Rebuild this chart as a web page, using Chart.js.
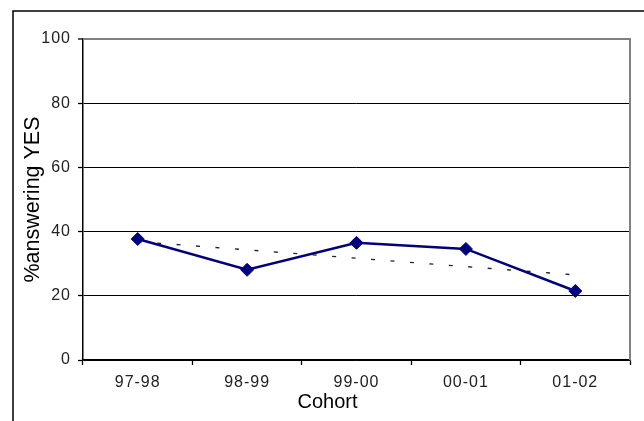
<!DOCTYPE html>
<html>
<head>
<meta charset="utf-8">
<script src="https://cdn.jsdelivr.net/npm/chart.js@4"></script>
<style>
  html, body { margin: 0; padding: 0; background: #fff; }
  #wrap { width: 644px; height: 421px; }
</style>
</head>
<body>
<div id="wrap"><canvas id="cohortChart" width="644" height="421"></canvas></div>
<script>
const cohorts = ['97-98', '98-99', '99-00', '00-01', '01-02'];
const yesPercent = [37.7, 28.1, 36.5, 34.6, 21.5];
// linear trend, only its two ends are given; the line spans the gaps
const trendEnds = [36.9, null, null, null, 26.5];
const yTicks = [0, 20, 40, 60, 80, 100];
const xTitle = 'Cohort';

const FONT = "'Liberation Sans', Arial, sans-serif";

// outer frame line, gray top/right edges of the plot area, x title
const framePlugin = {
  id: 'frame',
  beforeDatasetsDraw(chart) {
    const { ctx, chartArea } = chart;
    ctx.save();
    ctx.strokeStyle = '#808080';
    ctx.lineWidth = 2;
    ctx.beginPath();
    ctx.moveTo(chartArea.left, chartArea.top);
    ctx.lineTo(chartArea.right, chartArea.top);
    ctx.lineTo(chartArea.right, chartArea.bottom);
    ctx.stroke();
    ctx.restore();
  },
  afterDraw(chart) {
    const ctx = chart.ctx;
    ctx.save();
    ctx.strokeStyle = '#000';
    ctx.lineWidth = 1.5;
    ctx.beginPath();
    ctx.moveTo(13, chart.height);
    ctx.lineTo(13, 11);
    ctx.lineTo(chart.width, 11);
    ctx.stroke();

    // axis title sits centred on the whole frame, not the plot
    ctx.fillStyle = '#000';
    ctx.font = '20px ' + FONT;
    ctx.textAlign = 'center';
    ctx.textBaseline = 'middle';
    ctx.fillText(xTitle, (13 + chart.width) / 2 - 1, 402);
    ctx.restore();
  }
};

// tick labels are drawn a bit spread out
const spacedTicks = {
  id: 'spacedTicks',
  beforeDraw(chart) {
    Object.values(chart.scales).forEach(scale => {
      if (scale._spaced) return;
      const orig = scale.drawLabels;
      scale.drawLabels = function (area) {
        const ctx = this.ctx;
        ctx.save();
        ctx.letterSpacing = '1px';
        orig.call(this, area);
        ctx.restore();
      };
      scale._spaced = true;
    });
  }
};

const ctx = document.getElementById('cohortChart').getContext('2d');
new Chart(ctx, {
  type: 'line',
  data: {
    labels: cohorts,
    datasets: [
      {
        label: '%answering YES',
        data: yesPercent,
        borderColor: '#000080',
        borderWidth: 2.5,
        pointStyle: 'rectRot',
        pointRadius: 6.5,
        pointBackgroundColor: '#000080',
        pointBorderColor: '#000080',
        pointBorderWidth: 1,
        tension: 0,
        order: 1
      },
      {
        label: 'Trend',
        data: trendEnds,
        borderColor: '#222',
        borderWidth: 1.3,
        borderDash: [4, 15.5],
        pointRadius: 0,
        spanGaps: true,
        order: 2
      }
    ]
  },
  options: {
    responsive: false,
    devicePixelRatio: 1,
    animation: false,
    events: [],
    layout: { padding: { top: 39, right: 14, left: 0, bottom: 0 } },
    plugins: {
      legend: { display: false },
      tooltip: { enabled: false }
    },
    scales: {
      x: {
        type: 'category',
        offset: true,
        afterFit: s => { s.height = 61; },
        grid: {
          offset: true,
          drawOnChartArea: false,
          tickLength: 5,
          tickColor: '#000',
          tickWidth: 1.3
        },
        border: { color: '#000', width: 1.5 },
        ticks: {
          color: '#222',
          padding: 8,
          font: { family: FONT, size: 16 },
          maxRotation: 0
        },
        title: { display: false }
      },
      y: {
        min: 0,
        max: 100,
        afterFit: s => { s.width = 83; },
        afterBuildTicks: s => { s.ticks = yTicks.map(v => ({ value: v })); },
        grid: {
          color: c => (c.tick && c.tick.value === 100 ? '#808080' : '#000'),
          lineWidth: c => (c.tick && c.tick.value === 100 ? 2 : 1),
          tickLength: 5,
          tickColor: '#000',
          tickWidth: 1.3
        },
        border: { color: '#000', width: 1.5 },
        ticks: {
          color: '#222',
          padding: 7,
          font: { family: FONT, size: 16 }
        },
        title: {
          display: true,
          text: '%answering YES',
          color: '#000',
          font: { family: FONT, size: 21.5 },
          padding: { top: 20, bottom: 0 }
        }
      }
    }
  },
  plugins: [framePlugin, spacedTicks]
});
</script>
</body>
</html>
